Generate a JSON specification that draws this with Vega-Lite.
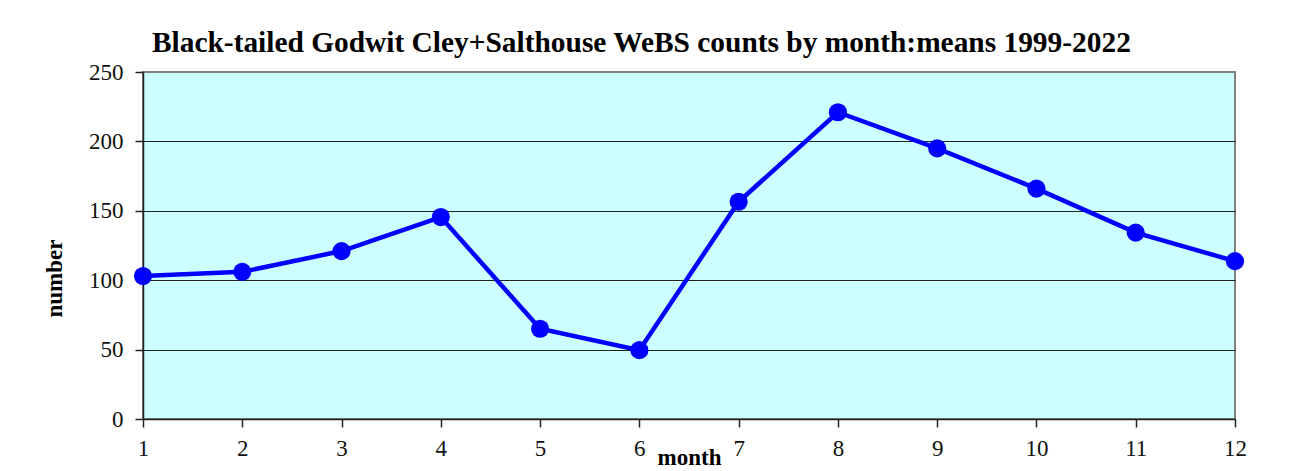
{
  "$schema": "https://vega.github.io/schema/vega-lite/v6.json",
  "autosize": "none",
  "width": 1092,
  "height": 347,
  "padding": {"left": 143, "top": 72, "right": 69, "bottom": 52},
  "background": "white",
  "title": {
    "text": "Black-tailed Godwit Cley+Salthouse WeBS counts by month:means 1999-2022",
    "font": "Liberation Serif",
    "fontSize": 29.4,
    "fontWeight": "bold",
    "color": "black",
    "anchor": "start",
    "frame": "group",
    "dx": 9,
    "offset": 3
  },
  "data": {
    "values": [
      {"month": 1, "number": 103},
      {"month": 2, "number": 106},
      {"month": 3, "number": 121},
      {"month": 4, "number": 145.5},
      {"month": 5, "number": 65},
      {"month": 6, "number": 49.6},
      {"month": 7, "number": 156.5},
      {"month": 8, "number": 221},
      {"month": 9, "number": 195},
      {"month": 10, "number": 166},
      {"month": 11, "number": 134.3},
      {"month": 12, "number": 113.7}
    ]
  },
  "config": {
    "view": {"fill": "#CCFFFF", "stroke": "#808080", "strokeWidth": 2},
    "axis": {
      "labelFont": "Liberation Serif",
      "labelFontSize": 23,
      "labelColor": "#111",
      "titleFont": "Liberation Serif",
      "titleFontSize": 23,
      "titleFontWeight": "bold",
      "titleColor": "black",
      "domainColor": "#222",
      "domainWidth": 1.5,
      "tickColor": "#222",
      "tickSize": 8,
      "tickWidth": 1.5,
      "gridWidth": 1,
      "gridOpacity": 1
    }
  },
  "layer": [
    {
      "mark": {"type": "line", "color": "#0000FF", "strokeWidth": 4.5},
      "encoding": {
        "x": {
          "field": "month",
          "type": "quantitative",
          "scale": {"domain": [1, 12], "nice": false, "zero": false},
          "axis": {
            "values": [1, 2, 3, 4, 5, 6, 7, 8, 9, 10, 11, 12],
            "format": "d",
            "labelAlign": "center",
            "labelFlush": false,
            "grid": false,
            "title": "month",
            "labelPadding": 10,
            "titleX": 546,
            "titleY": 45,
            "titleBaseline": "alphabetic",
            "titleAlign": "center"
          }
        },
        "y": {
          "field": "number",
          "type": "quantitative",
          "scale": {"domain": [0, 250], "nice": false},
          "axis": {
            "values": [0, 50, 100, 150, 200, 250],
            "format": "d",
            "labelFlush": false,
            "gridColor": {"condition": {"test": "datum.value == 250", "value": "#808080"}, "value": "#222"},
            "title": "number",
            "labelPadding": 12,
            "titleX": -82,
            "titleY": 206,
            "titleAlign": "center",
            "titleBaseline": "alphabetic",
            "titleAngle": 270
          }
        }
      }
    },
    {
      "mark": {"type": "point", "filled": true, "color": "#0000FF", "size": 330, "opacity": 1},
      "encoding": {
        "x": {"field": "month", "type": "quantitative"},
        "y": {"field": "number", "type": "quantitative"}
      }
    }
  ]
}
